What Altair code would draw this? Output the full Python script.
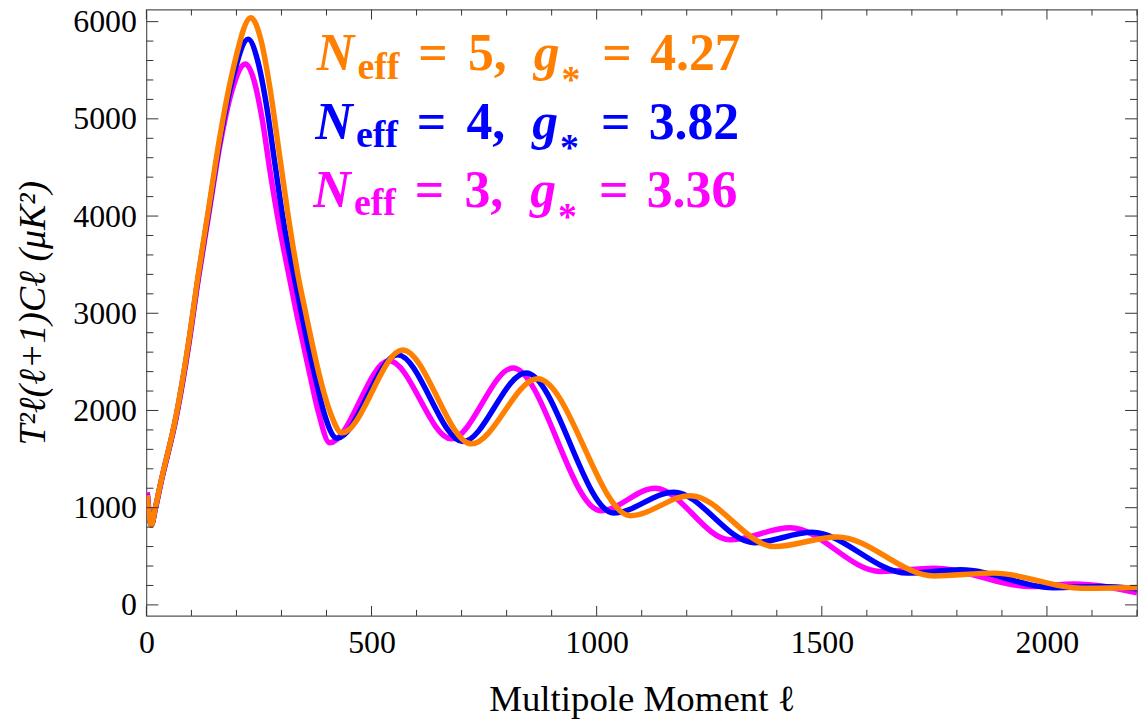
import altair as alt
import pandas as pd

# ---- data ----
ELL_N5 = [2, 11, 20, 32, 67, 93, 115, 139, 163, 193, 232, 255, 275, 295, 315, 338, 354, 369, 386, 408, 434,
          569, 722, 869, 1075, 1208, 1395, 1534, 1749, 1883, 2076, 2200]
DL_N5 = [1130, 820, 1000, 1260, 1970, 2680, 3390, 4100, 4810, 5520, 6040, 5800, 5300, 4650, 4000, 3358, 3000, 2670, 2327, 1983, 1770,
         2621, 1657, 2327, 918, 1124, 600, 699, 298, 327, 172, 180]

ELL_N4 = [2, 11, 20, 32, 67, 93, 115, 139, 163, 193, 226, 247, 267, 286, 305, 329, 344, 359, 376, 394, 423,
          558, 703, 843, 1038, 1171, 1350, 1478, 1690, 1808, 2016, 2120, 2200]
DL_N4 = [1135, 820, 995, 1255, 1960, 2665, 3370, 4070, 4770, 5440, 5820, 5600, 5130, 4520, 3930, 3358, 3010, 2670, 2327, 1983, 1715,
         2572, 1680, 2386, 945, 1159, 640, 747, 327, 361, 177, 190, 165]

ELL_N3 = [2, 11, 20, 32, 67, 93, 115, 139, 163, 190, 220, 240, 257, 276, 295, 318, 333, 349, 365, 382, 407,
          539, 677, 814, 1009, 1130, 1296, 1430, 1630, 1749, 1965, 2060, 2200]
DL_N3 = [1160, 825, 990, 1250, 1945, 2640, 3340, 4030, 4720, 5290, 5565, 5380, 5000, 4420, 3900, 3358, 3010, 2670, 2327, 1983, 1667,
         2511, 1708, 2437, 969, 1200, 670, 793, 344, 378, 190, 215, 125]

NEFF = ["5", "4", "3"]
GSTAR = ["4.27", "3.82", "3.36"]

X_LABELS = [0, 500, 1000, 1500, 2000]
Y_LABELS = [0, 1000, 2000, 3000, 4000, 5000, 6000]
X_MINOR = [v for v in range(100, 2201, 100) if v % 500 != 0]
Y_MINOR = [v for v in range(200, 6001, 200) if v % 1000 != 0]

ORANGE = "#FF8000"
BLUE = "#0000FF"
MAGENTA = "#FF00FF"
COLORS = [ORANGE, BLUE, MAGENTA]

W, H = 995, 609
FONT = "Liberation Serif"
TICK_COLOR = "#333333"

xs = alt.Scale(domain=[0, 2200], nice=False, zero=False)
ys = alt.Scale(domain=[-113, 6124], nice=False, zero=False)

xaxis = alt.Axis(
    values=X_LABELS, ticks=False, domain=False, grid=False, format="d",
    labelFont=FONT, labelFontSize=32, labelColor="black", labelPadding=12,
    labelFlush=False, labelOverlap=False,
    title="Multipole Moment ℓ", titleFont=FONT, titleFontSize=37,
    titleFontWeight="normal", titleColor="black",
    titleX=W / 2, titleY=95, titleAlign="center", titleBaseline="alphabetic",
)
yaxis = alt.Axis(
    values=Y_LABELS, ticks=False, domain=False, grid=False, format="d",
    labelFont=FONT, labelFontSize=32, labelColor="black", labelPadding=10,
    labelFlush=False, labelOverlap=False,
    title="T²ℓ(ℓ+1)Cℓ (μK²)", titleFont=FONT, titleFontSize=38,
    titleFontStyle="italic", titleFontWeight="normal", titleColor="black",
    titleAngle=270, titleX=-102, titleY=H / 2, titleAlign="center",
    titleBaseline="alphabetic",
)


def curve(ells, vals, color):
    df = pd.DataFrame({"ell": ells, "dl": vals})
    return alt.Chart(df).mark_line(
        color=color, strokeWidth=5.5, interpolate="monotone", clip=True,
        strokeJoin="round",
    ).encode(
        x=alt.X("ell:Q", scale=xs, axis=xaxis),
        y=alt.Y("dl:Q", scale=ys, axis=yaxis),
    )


def yticks(vals, length, side):
    df = pd.DataFrame({"dl": vals})
    if side == "left":
        xe = dict(x=alt.value(0), x2=alt.value(length))
    else:
        xe = dict(x=alt.value(W - length), x2=alt.value(W))
    return alt.Chart(df).mark_rule(color=TICK_COLOR, strokeWidth=1).encode(
        y=alt.Y("dl:Q", scale=ys, axis=yaxis), **xe
    )


def xticks(vals, length, side):
    df = pd.DataFrame({"ell": vals})
    if side == "bottom":
        ye = dict(y=alt.value(H - length), y2=alt.value(H))
    else:
        ye = dict(y=alt.value(0), y2=alt.value(length))
    return alt.Chart(df).mark_rule(color=TICK_COLOR, strokeWidth=1).encode(
        x=alt.X("ell:Q", scale=xs, axis=xaxis), **ye
    )


def seg(text, x, y, size, color, italic=False):
    df = pd.DataFrame({"t": [text]})
    return alt.Chart(df).mark_text(
        font=FONT, fontSize=size, fontWeight="bold",
        fontStyle="italic" if italic else "normal",
        color=color, align="left", baseline="alphabetic",
    ).encode(x=alt.value(x), y=alt.value(y), text="t:N")


layers = [
    curve(ELL_N3, DL_N3, MAGENTA),
    curve(ELL_N4, DL_N4, BLUE),
    curve(ELL_N5, DL_N5, ORANGE),
    yticks(Y_LABELS, 12, "left"), yticks(Y_MINOR, 7, "left"),
    yticks(Y_LABELS, 12, "right"), yticks(Y_MINOR, 7, "right"),
    xticks(X_LABELS, 10, "bottom"), xticks(X_MINOR, 6, "bottom"),
    xticks(X_LABELS, 10, "top"), xticks(X_MINOR, 6, "top"),
]

baselines = [61, 129.5, 198]
shifts = [0, -1.5, -3.5]
for i in range(3):
    b = baselines[i]
    d = shifts[i]
    c = COLORS[i]
    layers += [
        seg("N", 171 + d, b, 52, c, italic=True),
        seg("eff", 212 + d, b + 8.4, 38, c),
        seg("=", 273 + d, b, 52, c),
        seg(NEFF[i] + ",", 323 + d, b, 52, c),
        seg("g", 389 + d, b, 52, c, italic=True),
        seg("*", 417 + d, b + 22, 38, c),
        seg("=", 458 + d, b, 52, c),
        seg(GSTAR[i], 506 + d, b, 52, c),
    ]

chart = alt.layer(*layers).properties(
    width=W, height=H,
    autosize=alt.AutoSizeParams(type="none"),
    padding={"left": 139, "top": 0, "right": 2, "bottom": 105},
    background="white",
).configure_view(stroke="#555555", strokeWidth=1.2)

chart.save("out.html", embed_options={"renderer": "svg", "actions": False})
